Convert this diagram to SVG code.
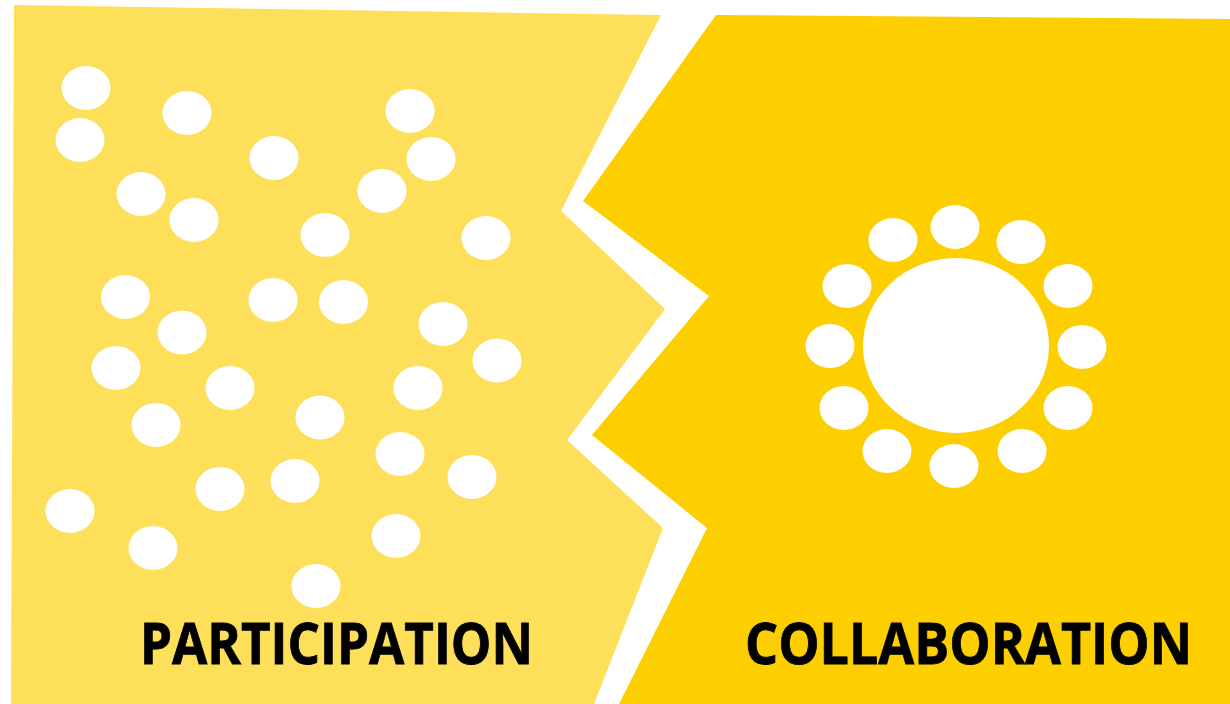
<svg xmlns="http://www.w3.org/2000/svg" width="1230" height="704" viewBox="0 0 1230 704">
<style>
.dot{fill:#FFFFFF}
.lbl{font-family:"Open Sans","Liberation Sans",sans-serif;font-weight:700;font-size:57px;fill:#000000;stroke:#000000;stroke-width:0.8}
</style>
<rect width="1230" height="704" fill="#FFFFFF"/>
<g id="participation">
<polygon points="14,5 661,15 561,211 665,309 567,440 663,528 594,704 11,704" fill="#FDDF5A"/>
<g id="participants">
<ellipse class="dot" cx="86" cy="88" rx="24.5" ry="22"/>
<ellipse class="dot" cx="80" cy="140" rx="24.5" ry="22"/>
<ellipse class="dot" cx="187" cy="113" rx="24.5" ry="22"/>
<ellipse class="dot" cx="410" cy="111" rx="24.5" ry="22"/>
<ellipse class="dot" cx="274" cy="158" rx="24.5" ry="22"/>
<ellipse class="dot" cx="431" cy="159" rx="24.5" ry="22"/>
<ellipse class="dot" cx="141" cy="194" rx="24.5" ry="22"/>
<ellipse class="dot" cx="382" cy="191" rx="24.5" ry="22"/>
<ellipse class="dot" cx="194" cy="220" rx="24.5" ry="22"/>
<ellipse class="dot" cx="325" cy="235" rx="24.5" ry="22"/>
<ellipse class="dot" cx="486" cy="238" rx="24.5" ry="22"/>
<ellipse class="dot" cx="125.5" cy="297" rx="24.5" ry="22"/>
<ellipse class="dot" cx="273" cy="300" rx="24.5" ry="22"/>
<ellipse class="dot" cx="343.5" cy="302" rx="24.5" ry="22"/>
<ellipse class="dot" cx="182" cy="332.5" rx="24.5" ry="22"/>
<ellipse class="dot" cx="443" cy="324" rx="24.5" ry="22"/>
<ellipse class="dot" cx="497" cy="360.5" rx="24.5" ry="22"/>
<ellipse class="dot" cx="116" cy="368" rx="24.5" ry="22"/>
<ellipse class="dot" cx="230" cy="388" rx="24.5" ry="22"/>
<ellipse class="dot" cx="418" cy="388" rx="24.5" ry="22"/>
<ellipse class="dot" cx="156" cy="425" rx="24.5" ry="22"/>
<ellipse class="dot" cx="320" cy="417.5" rx="24.5" ry="22"/>
<ellipse class="dot" cx="400" cy="454" rx="24.5" ry="22"/>
<ellipse class="dot" cx="295" cy="481" rx="24.5" ry="22"/>
<ellipse class="dot" cx="220" cy="489" rx="24.5" ry="22"/>
<ellipse class="dot" cx="472" cy="477" rx="24.5" ry="22"/>
<ellipse class="dot" cx="70" cy="511" rx="24.5" ry="22"/>
<ellipse class="dot" cx="153" cy="548" rx="24.5" ry="22"/>
<ellipse class="dot" cx="396" cy="536" rx="24.5" ry="22"/>
<ellipse class="dot" cx="316" cy="586" rx="24.5" ry="22"/>
</g>
<text class="lbl" x="140" y="664" textLength="393" lengthAdjust="spacingAndGlyphs">PARTICIPATION</text>
</g>
<g id="collaboration">
<polygon points="716,15 1230,19 1230,704 619,704 707,528 592,435 709,296 583,201" fill="#FDCE00"/>
<g id="table">
<ellipse class="dot" cx="956" cy="345.5" rx="93" ry="87.5"/>
<ellipse class="dot" cx="893" cy="240" rx="24.5" ry="22"/>
<ellipse class="dot" cx="955" cy="227" rx="24.5" ry="22"/>
<ellipse class="dot" cx="1021" cy="242" rx="24.5" ry="22"/>
<ellipse class="dot" cx="847" cy="286" rx="24.5" ry="22"/>
<ellipse class="dot" cx="1068" cy="286" rx="24.5" ry="22"/>
<ellipse class="dot" cx="830" cy="346" rx="24.5" ry="22"/>
<ellipse class="dot" cx="1082" cy="347" rx="24.5" ry="22"/>
<ellipse class="dot" cx="844" cy="408" rx="24.5" ry="22"/>
<ellipse class="dot" cx="1068" cy="408" rx="24.5" ry="22"/>
<ellipse class="dot" cx="887" cy="451" rx="24.5" ry="22"/>
<ellipse class="dot" cx="954" cy="466" rx="24.5" ry="22"/>
<ellipse class="dot" cx="1022" cy="451" rx="24.5" ry="22"/>
</g>
<text class="lbl" x="745" y="664" textLength="447" lengthAdjust="spacingAndGlyphs">COLLABORATION</text>
</g>
</svg>
